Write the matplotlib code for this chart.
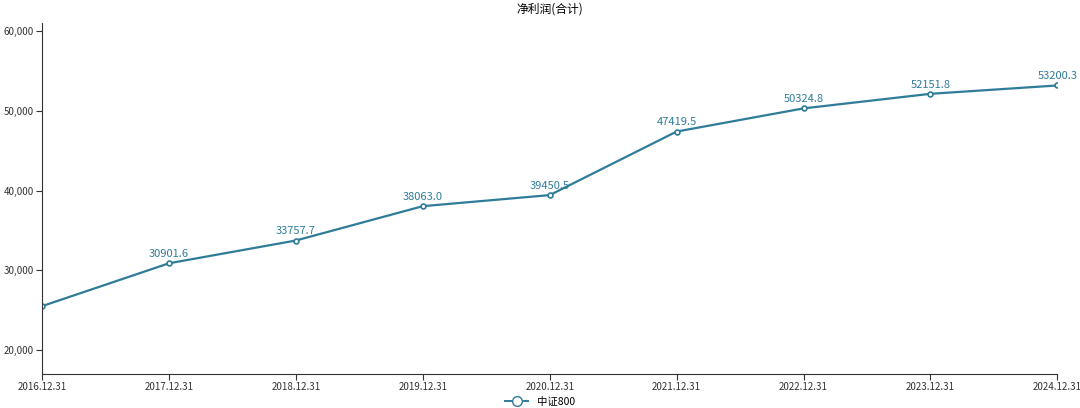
import matplotlib.pyplot as plt
from matplotlib.ticker import FuncFormatter

plt.rcParams['font.family'] = ['Noto Sans CJK SC', 'DejaVu Sans']

dates = ['2016.12.31', '2017.12.31', '2018.12.31', '2019.12.31', '2020.12.31',
         '2021.12.31', '2022.12.31', '2023.12.31', '2024.12.31']
profit = [25530.0, 30901.6, 33757.7, 38063.0, 39450.5, 47419.5, 50324.8, 52151.8, 53200.3]
line_color = '#2f7c99'

fig = plt.figure(figsize=(10.8, 4.08), dpi=100)
ax = fig.add_axes([0.039, 0.083, 0.940, 0.86])
x = list(range(len(dates)))
ax.plot(x, profit, color=line_color, lw=1.6, marker='o', ms=3.5,
        mfc='white', mec=line_color, mew=1.2)
for i, v in enumerate(profit):
    if i == 0:
        continue
    ax.annotate(f'{v:.1f}', (i, v), xytext=(0, 3), textcoords='offset points',
                ha='center', va='bottom', fontsize=8, color=line_color)

ax.set_xlim(0, len(dates) - 1)
ax.set_ylim(17000, 61000)
ax.set_yticks([20000, 30000, 40000, 50000, 60000])
ax.yaxis.set_major_formatter(FuncFormatter(lambda v, p: f'{int(v):,}'))
ax.set_xticks(x)
ax.set_xticklabels(dates)
ax.tick_params(labelsize=7, colors='#333333', length=4, pad=2)
for s in ['top', 'right']:
    ax.spines[s].set_visible(False)
for s in ['left', 'bottom']:
    ax.spines[s].set_color('#333333')
ax.set_title('净利润(合计)', fontsize=8.5, pad=8)

ax.plot([], [], color=line_color, marker='o', mfc='white', mec=line_color,
        ms=7, lw=1.4, label='中证800')
fig.legend(loc='lower center', bbox_to_anchor=(0.5, -0.015), frameon=False,
           fontsize=7.5, handlelength=2.2, borderpad=0.2)

fig.savefig('out.png', dpi=100)
